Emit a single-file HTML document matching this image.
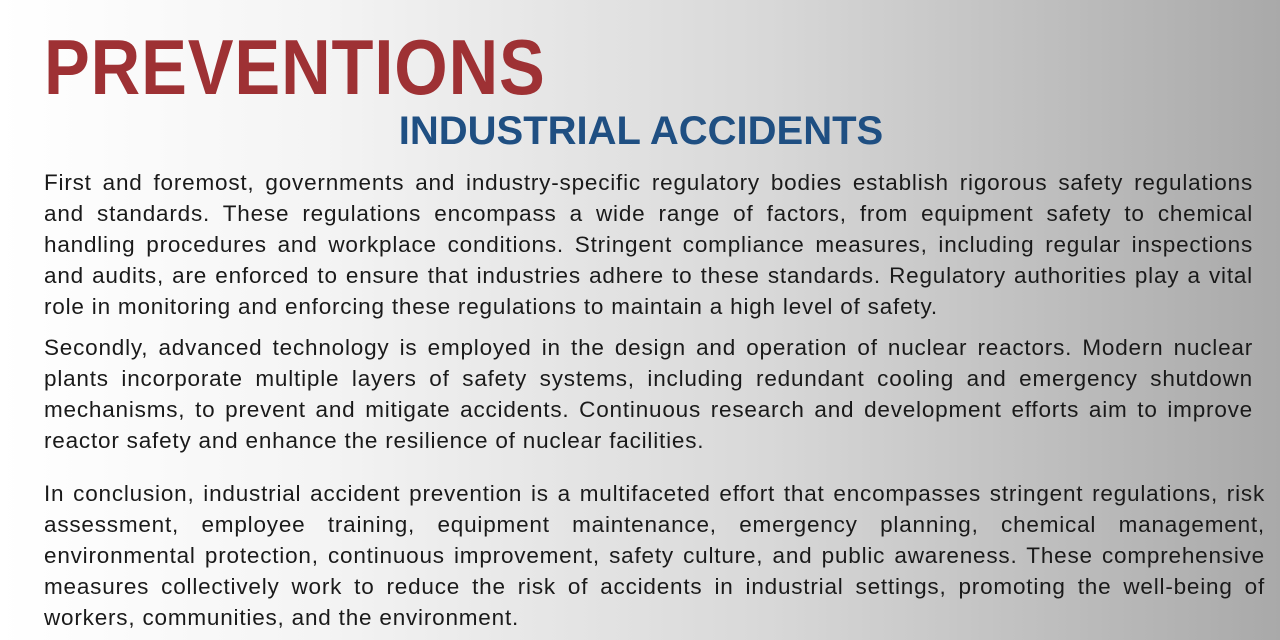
<!DOCTYPE html>
<html>
<head>
<meta charset="utf-8">
<style>
  html,body{margin:0;padding:0;}
  body{width:1280px;height:640px;overflow:hidden;position:relative;
    background:linear-gradient(90deg,#ffffff 0%,#f4f4f4 25%,#d8d8d8 60%,#a9a9a9 100%);
    font-family:"Liberation Sans",sans-serif;}
  .title{position:absolute;left:44px;top:24px;font-size:78px;font-weight:bold;color:#9e3134;letter-spacing:1px;line-height:86px;transform:scaleX(0.88);transform-origin:left top;}
  .subtitle{position:absolute;left:0;width:1280px;top:108px;text-align:center;font-size:40px;font-weight:bold;color:#1f4f82;line-height:46px;}
  .subtitle span{position:relative;left:1px;}
  .para{position:absolute;left:44px;color:#1a1a1a;font-size:22.5px;letter-spacing:0.8px;}
  .line{height:31px;line-height:31px;white-space:nowrap;text-align:justify;text-align-last:justify;}
  .line.last{text-align-last:left;}
</style>
</head>
<body>
<div class="title">PREVENTIONS</div>
<div class="subtitle"><span>INDUSTRIAL ACCIDENTS</span></div>

<div class="para" style="top:167px;width:1209px;">
  <div class="line">First and foremost, governments and industry-specific regulatory bodies establish rigorous safety regulations</div>
  <div class="line">and standards. These regulations encompass a wide range of factors, from equipment safety to chemical</div>
  <div class="line">handling procedures and workplace conditions. Stringent compliance measures, including regular inspections</div>
  <div class="line">and audits, are enforced to ensure that industries adhere to these standards. Regulatory authorities play a vital</div>
  <div class="line last">role in monitoring and enforcing these regulations to maintain a high level of safety.</div>
</div>

<div class="para" style="top:332px;width:1209px;">
  <div class="line">Secondly, advanced technology is employed in the design and operation of nuclear reactors. Modern nuclear</div>
  <div class="line">plants incorporate multiple layers of safety systems, including redundant cooling and emergency shutdown</div>
  <div class="line">mechanisms, to prevent and mitigate accidents. Continuous research and development efforts aim to improve</div>
  <div class="line last">reactor safety and enhance the resilience of nuclear facilities.</div>
</div>

<div class="para" style="top:478px;width:1221px;">
  <div class="line">In conclusion, industrial accident prevention is a multifaceted effort that encompasses stringent regulations, risk</div>
  <div class="line">assessment, employee training, equipment maintenance, emergency planning, chemical management,</div>
  <div class="line">environmental protection, continuous improvement, safety culture, and public awareness. These comprehensive</div>
  <div class="line">measures collectively work to reduce the risk of accidents in industrial settings, promoting the well-being of</div>
  <div class="line last">workers, communities, and the environment.</div>
</div>
</body>
</html>
